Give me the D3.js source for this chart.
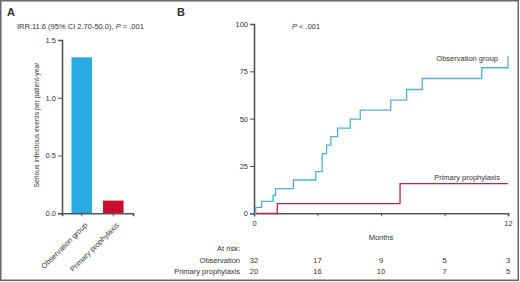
<!DOCTYPE html>
<html>
<head>
<meta charset="utf-8">
<script src="https://cdn.jsdelivr.net/npm/d3@7"></script>
<style>
  body { margin: 0; background: #fff; }
  svg text { font-family: "Liberation Sans", Arial, sans-serif; fill: #333; }
</style>
</head>
<body>
<div id="canvas"></div>
<script>
// Panel A: rate of serious infectious events.
const barGroups = ["Observation group", "Primary prophylaxis"];
const barValues = [1.35, 0.11];
const barTicks = [0.0, 0.5, 1.0, 1.5];

// Panel B: cumulative incidence (month, percent).
const obsMonths = [0, 0.08, 0.36, 0.9, 1.02, 1.86, 2.92, 3.22, 3.43, 3.63, 3.95, 4.55, 5.02, 6.46, 7.21, 7.95, 10.76, 12];
const obsPercent = [0, 3.1, 6.3, 9.4, 13.0, 17.6, 22.0, 31.5, 36.0, 40.5, 45.0, 49.7, 54.5, 59.8, 65.4, 71.2, 76.9, 83.0];
const ppMonths = [0, 1.1, 6.9, 12];
const ppPercent = [0, 5.1, 15.7, 15.7];
const kmTicksY = [0, 25, 50, 75, 100];
const kmTicksX = [0, 3, 6, 9, 12];
const riskObs = [32, 17, 9, 5, 3];
const riskPP = [20, 16, 10, 7, 5];

const w = 520, h = 282;
const blue = "#29abe2", red = "#c8102e";
const lineBlue = "#4eb1d9", lineRed = "#bd2350";
const axisColor = "#555";

const svg = d3.select("#canvas")
    .append("svg")
    .attr("width", w)
    .attr("height", h);

// Figure frame.
svg.append("rect")
    .attr("x", 0.75).attr("y", 0.75)
    .attr("width", 517.5).attr("height", 279.5)
    .attr("fill", "none")
    .attr("stroke", "#666")
    .attr("stroke-width", 1.5);

// Panel letters.
svg.append("text").attr("x", 7).attr("y", 16)
    .attr("font-size", 11).attr("font-weight", "bold").text("A");
svg.append("text").attr("x", 177).attr("y", 16)
    .attr("font-size", 11).attr("font-weight", "bold").text("B");

// ---------- Panel A ----------
const yA = d3.scaleLinear().domain([0, 1.5]).range([213.3, 40]);
const xA = d3.scaleBand().domain(barGroups).range([62, 133]).paddingInner(0.35).paddingOuter(0.3);

const gA = svg.append("g");

gA.selectAll("rect.bar")
    .data(barValues)
    .enter()
    .append("rect")
    .attr("class", "bar")
    .attr("x", (d, i) => xA(barGroups[i]))
    .attr("y", d => yA(d))
    .attr("width", xA.bandwidth())
    .attr("height", d => yA(0) - yA(d))
    .attr("fill", (d, i) => i === 0 ? blue : red);

const axisYA = gA.append("g")
    .attr("transform", "translate(62,0)")
    .call(d3.axisLeft(yA).tickValues(barTicks).tickFormat(d3.format(".1f")).tickSize(4).tickPadding(2));

const axisXA = gA.append("g")
    .attr("transform", `translate(0,${yA(0)})`)
    .call(d3.axisBottom(xA).tickSize(3).tickPadding(3));
axisXA.selectAll("text")
    .attr("text-anchor", "end")
    .attr("dy", null)
    .attr("transform", "translate(2,8) rotate(-45)");

[axisYA, axisXA].forEach(a => {
    a.select(".domain").attr("stroke", axisColor).attr("stroke-width", 1.6);
    a.selectAll(".tick line").attr("stroke", axisColor);
    a.selectAll("text").attr("font-size", 7.5).attr("fill", "#333")
        .attr("font-family", "Liberation Sans, Arial, sans-serif");
});

gA.append("text")
    .attr("transform", "translate(39,125) rotate(-90)")
    .attr("text-anchor", "middle")
    .attr("font-size", 6.8)
    .text("Serious infectious events per patient-year");

const titleA = gA.append("text")
    .attr("x", 17).attr("y", 29)
    .attr("font-size", 7.5);
titleA.append("tspan").text("IRR:11.6 (95% CI 2.70-50.0), ");
titleA.append("tspan").attr("font-style", "italic").text("P");
titleA.append("tspan").text(" = .001");

// ---------- Panel B ----------
const xB = d3.scaleLinear().domain([0, 12]).range([254, 508]);
const yB = d3.scaleLinear().domain([0, 100]).range([213.3, 24]);

const gB = svg.append("g");

const axisYB = gB.append("g")
    .attr("transform", "translate(254,0)")
    .call(d3.axisLeft(yB).tickValues(kmTicksY).tickSize(4).tickPadding(2));

const axisXB = gB.append("g")
    .attr("transform", `translate(0,${yB(0)})`)
    .call(d3.axisBottom(xB).tickValues(kmTicksX).tickSize(3).tickPadding(4)
        .tickFormat(d => (d === 0 || d === 12) ? d : ""));

[axisYB, axisXB].forEach(a => {
    a.select(".domain").attr("stroke", axisColor).attr("stroke-width", 1.6);
    a.selectAll(".tick line").attr("stroke", axisColor);
    a.selectAll("text").attr("font-size", 7.5).attr("fill", "#333")
        .attr("font-family", "Liberation Sans, Arial, sans-serif");
});

const step = d3.line()
    .x(d => xB(d[0]))
    .y(d => yB(d[1]))
    .curve(d3.curveStepAfter);

gB.append("path")
    .datum(ppMonths.map((m, i) => [m, ppPercent[i]]))
    .attr("d", step)
    .attr("fill", "none")
    .attr("stroke", lineRed)
    .attr("stroke-width", 1.3);

gB.append("path")
    .datum(obsMonths.map((m, i) => [m, obsPercent[i]]))
    .attr("d", step)
    .attr("fill", "none")
    .attr("stroke", lineBlue)
    .attr("stroke-width", 1.3);

gB.append("text")
    .attr("x", 498).attr("y", 61)
    .attr("text-anchor", "end")
    .attr("font-size", 7.5)
    .text("Observation group");

gB.append("text")
    .attr("x", 500).attr("y", 180)
    .attr("text-anchor", "end")
    .attr("font-size", 7.5)
    .text("Primary prophylaxis");

const pB = gB.append("text").attr("x", 292).attr("y", 29).attr("font-size", 7.5);
pB.append("tspan").attr("font-style", "italic").text("P");
pB.append("tspan").text(" < .001");

gB.append("text")
    .attr("x", xB(6)).attr("y", 240)
    .attr("text-anchor", "middle")
    .attr("font-size", 7.5)
    .text("Months");

// At-risk table.
gB.append("text")
    .attr("x", 240).attr("y", 251)
    .attr("text-anchor", "end")
    .attr("font-size", 7.5)
    .text("At risk:");

const riskRows = [
    { label: "Observation", values: riskObs, y: 263 },
    { label: "Primary prophylaxis", values: riskPP, y: 274 }
];

riskRows.forEach(row => {
    gB.append("text")
        .attr("x", 240).attr("y", row.y)
        .attr("text-anchor", "end")
        .attr("font-size", 7.5)
        .text(row.label);
    gB.selectAll(null)
        .data(row.values)
        .enter()
        .append("text")
        .attr("x", (d, i) => xB(kmTicksX[i]))
        .attr("y", row.y)
        .attr("text-anchor", "middle")
        .attr("font-size", 7.5)
        .text(d => d);
});
</script>
</body>
</html>
